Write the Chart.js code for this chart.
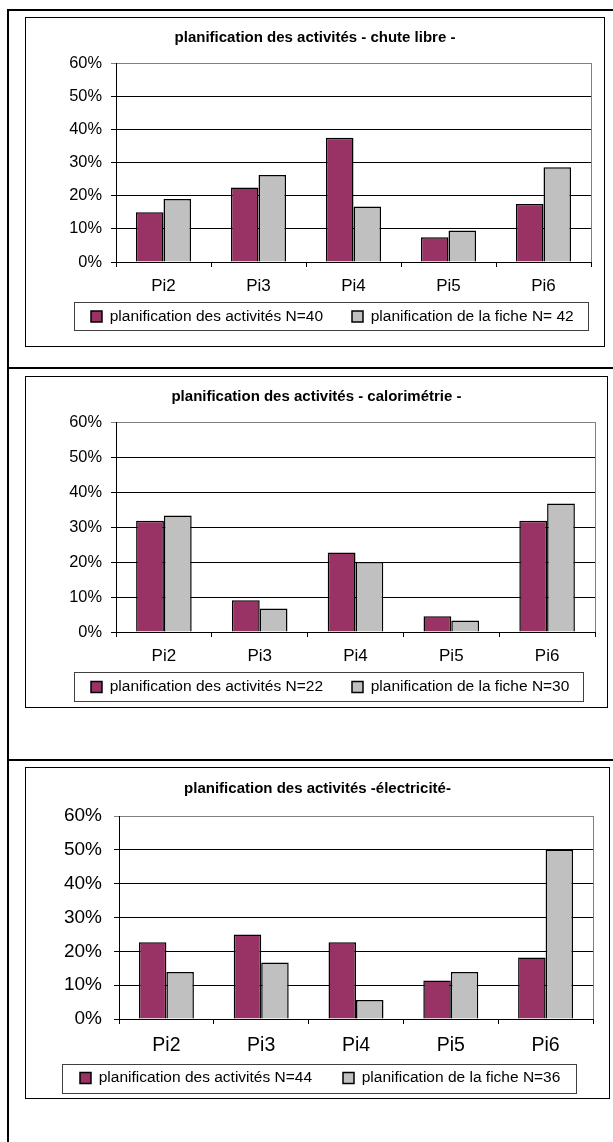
<!DOCTYPE html>
<html lang="fr">
<head>
<meta charset="utf-8">
<title>planification des activités</title>
<script src="https://cdn.jsdelivr.net/npm/chart.js@4.4.1/dist/chart.umd.min.js"></script>
<style>
  html, body { margin: 0; padding: 0; background: #fff; }
  body { width: 613px; height: 1142px; position: relative; overflow: hidden; }
  .rule { position: absolute; background: #000; }
  .box { position: absolute; border: 1px solid #000; box-sizing: border-box; background: #fff; }
  .box canvas { position: absolute; left: 0; top: 0; }
</style>
</head>
<body>
<div class="rule" style="left:7px;top:9px;width:2px;height:1133px"></div>
<div class="rule" style="left:7px;top:9px;width:606px;height:2px"></div>
<div class="rule" style="left:7px;top:367px;width:606px;height:2px"></div>
<div class="rule" style="left:7px;top:759px;width:606px;height:2px"></div>

<div class="box" style="left:25px;top:17px;width:580px;height:330px"><canvas id="chute" width="578" height="328"></canvas></div>
<div class="box" style="left:25px;top:376px;width:583px;height:332px"><canvas id="calo" width="581" height="330"></canvas></div>
<div class="box" style="left:25px;top:767px;width:585px;height:332px"><canvas id="elec" width="583" height="330"></canvas></div>

<script>
// categories et graduations
const categories = ["Pi2", "Pi3", "Pi4", "Pi5", "Pi6"];
const yTicks = [0, 10, 20, 30, 40, 50, 60];

// chute libre (N=40 / N=42)
const chuteActivites = [15, 22.5, 37.5, 7.5, 17.5];
const chuteFiche = [19, 26.2, 16.7, 9.5, 28.6];

// calorimétrie (N=22 / N=30)
const caloActivites = [31.8, 9.1, 22.7, 4.5, 31.8];
const caloFiche = [33.3, 6.7, 20, 3.3, 36.7];

// électricité (N=44 / N=36)
const elecActivites = [22.7, 25, 22.7, 11.4, 18.2];
const elecFiche = [13.9, 16.7, 5.6, 13.9, 50];

const titres = [
  "planification des activités - chute libre -",
  "planification des activités - calorimétrie -",
  "planification des activités -électricité-"
];
const legendes = [
  ["planification des activités N=40", "planification de la fiche N= 42"],
  ["planification des activités N=22", "planification de la fiche N=30"],
  ["planification des activités N=44", "planification de la fiche N=36"]
];

const FONT = "'Liberation Sans', Arial, sans-serif";
const MAROON = "#993366";
const GRIS = "#C0C0C0";

// place le titre et la légende, dessine le cadre de la légende et le bord du graphique
const cadres = {
  id: "cadres",
  afterLayout(chart, args, opts) {
    const t = chart.titleBlock;
    if (t) { t.left = 0; t.right = chart.width; t.width = chart.width; }
    const lg = chart.legend;
    if (lg) {
      lg.left = opts.legendX;
      lg.right = chart.width;
      lg.width = lg.right - lg.left;
      lg.top = opts.legendTop;
      lg.bottom = chart.height;
      lg.height = lg.bottom - lg.top;
    }
  },
  afterDraw(chart, args, opts) {
    const ctx = chart.ctx;
    const a = chart.chartArea;
    const f = opts.frame;
    ctx.save();
    ctx.lineWidth = 1;
    ctx.strokeStyle = "#404040";
    ctx.strokeRect(f[0] + 0.5, f[1] + 0.5, f[2] - f[0], f[3] - f[1]);
    const x = Math.round(a.right - 0.5) + 0.5;
    ctx.strokeStyle = "#808080";
    ctx.beginPath();
    ctx.moveTo(x, a.top);
    ctx.lineTo(x, a.bottom);
    ctx.stroke();
    ctx.restore();
  }
};

function dessiner(id, titre, noms, serieA, serieB, L) {
  new Chart(document.getElementById(id), {
    type: "bar",
    data: {
      labels: categories,
      datasets: [
        { label: noms[0], data: serieA, backgroundColor: MAROON, borderColor: "#000", borderWidth: 1.5 },
        { label: noms[1], data: serieB, backgroundColor: GRIS, borderColor: "#000", borderWidth: 1.5 }
      ]
    },
    options: {
      responsive: false,
      animation: false,
      events: [],
      layout: { padding: { left: 0, right: L.padRight, top: 0, bottom: 0 } },
      datasets: { bar: { barPercentage: 1, categoryPercentage: 0.58 } },
      scales: {
        x: {
          afterFit: (s) => { s.height = L.xHeight; },
          grid: { offset: true, drawOnChartArea: false, drawTicks: true, tickLength: 5, color: "#000" },
          border: { color: "#000" },
          ticks: { color: "#000", padding: L.catPad, font: { family: FONT, size: L.catFont } }
        },
        y: {
          min: yTicks[0],
          max: yTicks[yTicks.length - 1],
          afterFit: (s) => { s.width = L.yWidth; },
          afterBuildTicks: (s) => { s.ticks = yTicks.map((v) => ({ value: v })); },
          grid: {
            tickLength: 5,
            color: (c) => (c.tick && c.tick.value === 60 ? "#808080" : "#000")
          },
          border: { color: "#000" },
          ticks: {
            color: "#000",
            padding: L.yPad,
            font: { family: FONT, size: L.tickFont },
            callback: (v) => v + "%"
          }
        }
      },
      plugins: {
        tooltip: { enabled: false },
        title: {
          display: true,
          text: titre,
          color: "#000",
          font: { family: FONT, size: 15, weight: "bold", lineHeight: 1.2 },
          padding: { top: L.titleTop, bottom: L.titleBottom }
        },
        legend: {
          position: "bottom",
          align: "start",
          maxHeight: 40,
          labels: {
            color: "#000",
            boxWidth: 11,
            boxHeight: 11,
            padding: L.legendPad,
            font: { family: FONT, size: 15.5 }
          }
        },
        cadres: { legendX: L.legendX, legendTop: L.legendTop, frame: L.frame }
      }
    },
    plugins: [cadres]
  });
}

dessiner("chute", titres[0], legendes[0], chuteActivites, chuteFiche, {
  yWidth: 90, padRight: 13, titleTop: 11, titleBottom: 16, xHeight: 44,
  tickFont: 16.4, catFont: 17, catPad: 8.8, yPad: 9,
  legendPad: 29, legendX: 36, legendTop: 261.75, frame: [48, 284, 562, 312]
});

dessiner("calo", titres[1], legendes[1], caloActivites, caloFiche, {
  yWidth: 90, padRight: 12, titleTop: 11, titleBottom: 16, xHeight: 35,
  tickFont: 16.4, catFont: 17, catPad: 8.8, yPad: 9,
  legendPad: 29, legendX: 36, legendTop: 273.25, frame: [48, 295, 557, 324]
});

dessiner("elec", titres[2], legendes[2], elecActivites, elecFiche, {
  yWidth: 93, padRight: 16, titleTop: 12, titleBottom: 18, xHeight: 39,
  tickFont: 19, catFont: 19.5, catPad: 10.3, yPad: 12,
  legendPad: 31, legendX: 23, legendTop: 271.25, frame: [36, 296, 550, 325]
});
</script>
</body>
</html>
